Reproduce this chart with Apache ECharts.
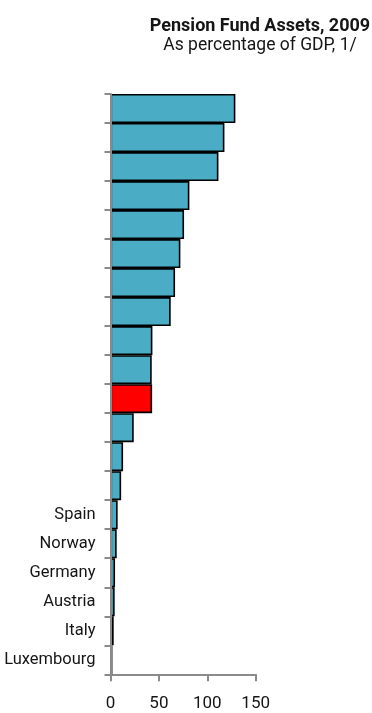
<!DOCTYPE html>
<html>
<head>
<meta charset="utf-8">
<script src="https://cdn.jsdelivr.net/npm/echarts@6/dist/echarts.min.js"></script>
<style>
  html, body { margin: 0; padding: 0; background: #fff; }
  #chart { width: 372px; height: 713px; }
</style>
</head>
<body>
<div id="chart"></div>
<script>
// Pension fund assets as a share of GDP, 2009 (top to bottom)
const categories = ['', '', '', '', '', '', '', '', '', '', '', '', '', '',
  'Spain', 'Norway', 'Germany', 'Austria', 'Italy', 'Luxembourg'];
const assets = [129, 117.7, 111.5, 81.5, 76, 72.2, 66.7, 62.2, 43.3, 42.6,
  43, 24, 13, 11, 7.4, 6.4, 4.7, 4.3, 3.3, 2];
const highlightIndex = 10;
const xTicks = [0, 50, 100, 150];

const FONT = "Roboto, 'Liberation Sans Narrow', 'DejaVu Sans Condensed', sans-serif";
const AXIS_GREY = '#8a8a8a';
const TEXT = '#151515';

const chart = echarts.init(document.getElementById('chart'), null, { renderer: 'canvas' });

chart.setOption({
  animation: false,
  backgroundColor: '#fff',
  title: {
    text: 'Pension Fund Assets, 2009',
    subtext: 'As percentage of GDP, 1/',
    left: 260,
    top: 16,
    textAlign: 'center',
    padding: 0,
    itemGap: 0,
    textStyle: { fontFamily: FONT, fontSize: 18, fontWeight: 'bold', color: TEXT, lineHeight: 20 },
    subtextStyle: { fontFamily: FONT, fontSize: 17.5, color: TEXT, lineHeight: 20 }
  },
  grid: { left: 110.5, right: 116.3, top: 94, bottom: 38.7, containLabel: false, outerBoundsMode: 'none' },
  xAxis: {
    type: 'value',
    min: xTicks[0],
    max: xTicks[xTicks.length - 1],
    interval: xTicks[1] - xTicks[0],
    splitLine: { show: false },
    axisLine: { show: true, lineStyle: { color: AXIS_GREY, width: 2 } },
    axisTick: { show: true, length: 7, lineStyle: { color: AXIS_GREY, width: 2 } },
    axisLabel: { margin: 21, fontFamily: FONT, fontSize: 17, color: TEXT }
  },
  yAxis: {
    type: 'category',
    data: categories,
    inverse: true,
    z: 5,
    axisLine: { show: true, lineStyle: { color: AXIS_GREY, width: 2 } },
    axisTick: { show: true, length: 6, alignWithLabel: false, lineStyle: { color: AXIS_GREY, width: 2 } },
    axisLabel: { interval: 0, margin: 15, fontFamily: FONT, fontSize: 16.5, color: TEXT },
    splitLine: { show: false }
  },
  series: [{
    type: 'bar',
    barCategoryGap: '0%',
    data: assets.map((v, i) => ({
      value: v,
      itemStyle: { color: i === highlightIndex ? '#ff0000' : '#4bacc6' }
    })),
    itemStyle: { borderColor: '#000', borderWidth: 1.6 }
  }]
});
</script>
</body>
</html>
